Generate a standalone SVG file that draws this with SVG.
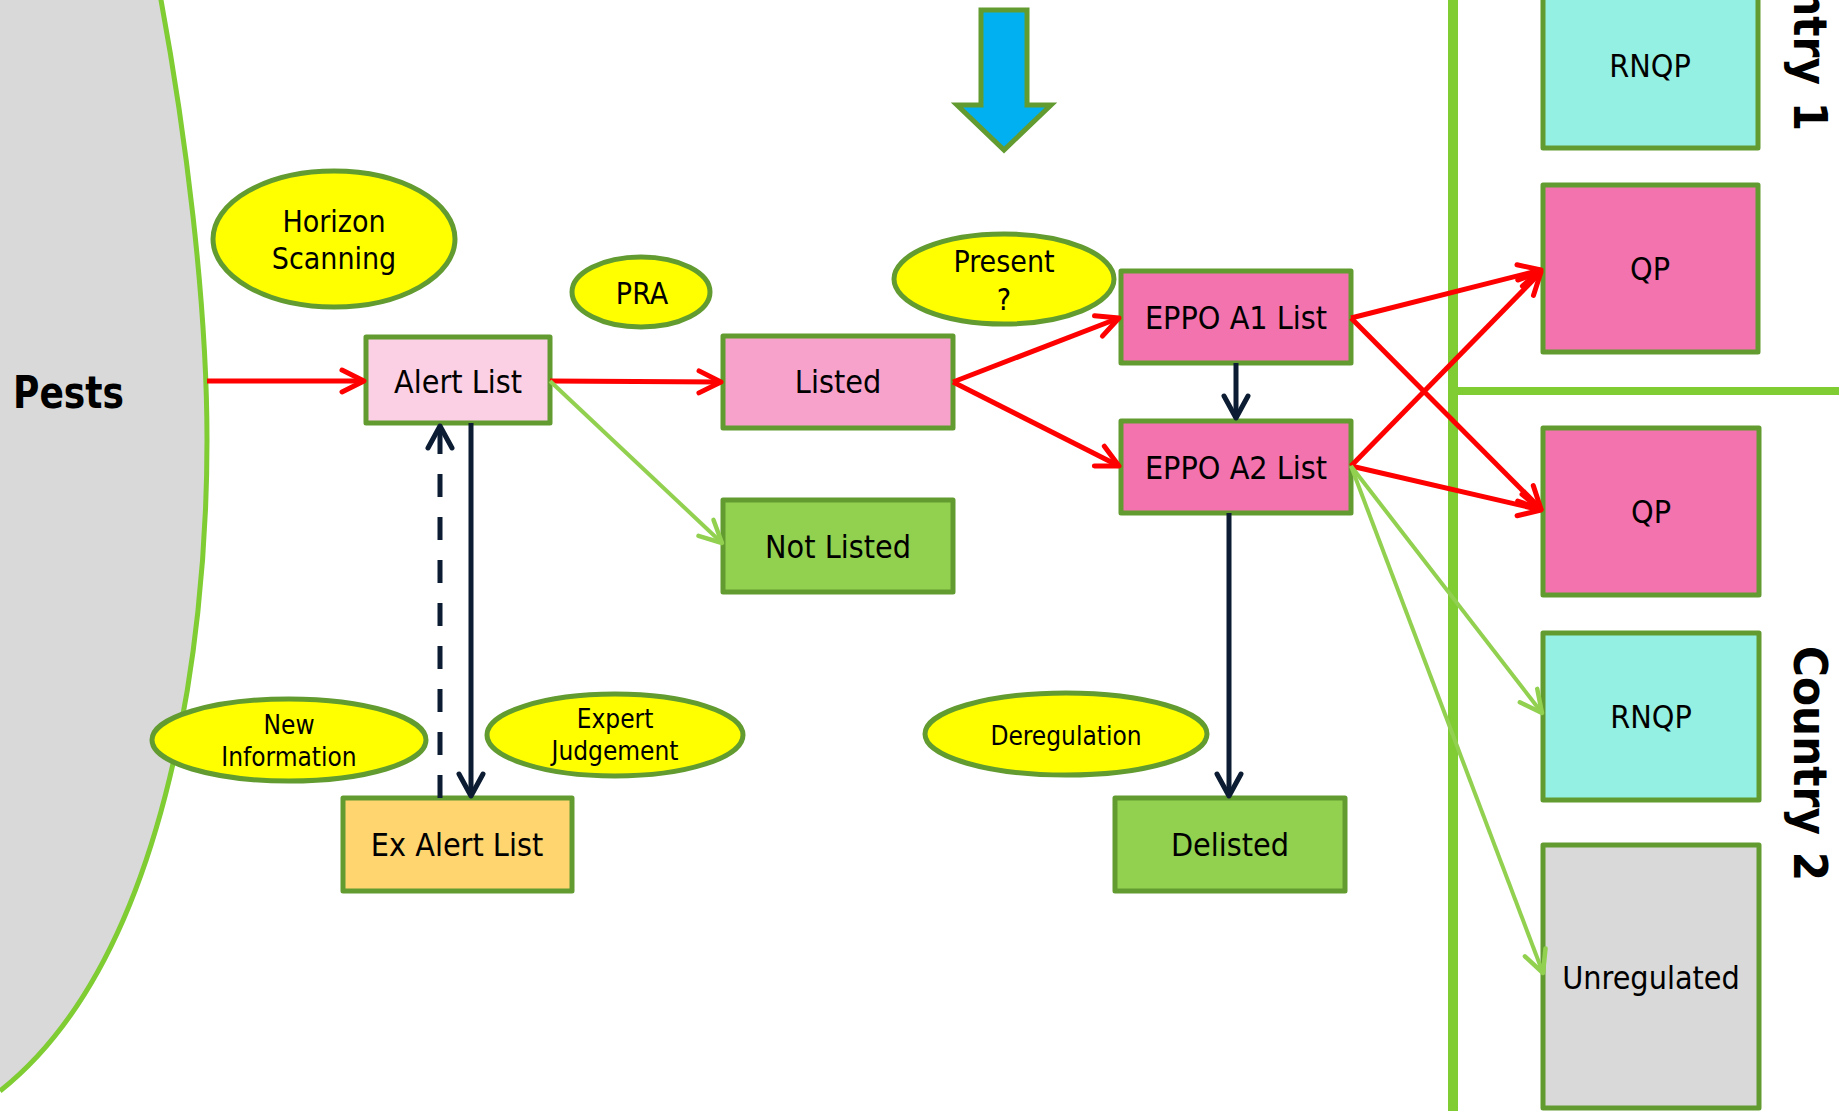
<svg xmlns="http://www.w3.org/2000/svg" width="1839" height="1111" viewBox="0 0 1839 1111">
<style>
  .t { font-family: "DejaVu Sans Condensed", "DejaVu Sans", sans-serif; font-stretch: condensed; fill: #000; text-anchor: middle; }
  .box { stroke: #629b30; stroke-width: 5; stroke-linejoin: round; }
  .ell { fill: #ffff00; stroke: #629b30; stroke-width: 5; }
  .b32 { font-size: 32px; }
  .e30 { font-size: 30px; }
  .e26 { font-size: 26px; }
  .country { font-family: "DejaVu Sans Condensed", "DejaVu Sans", sans-serif; font-stretch: condensed; font-weight: bold; font-size: 47px; fill: #000; word-spacing: 2px; }
  .red { stroke: #ff0000; stroke-width: 5; fill: none; marker-end: url(#ahRed); }
  .grn { stroke: #92d050; stroke-width: 4; fill: none; marker-end: url(#ahGrn); }
  .nav { stroke: #0c1c33; stroke-width: 5; fill: none; marker-end: url(#ahNav); }
  .divider { stroke: #7fcc33; fill: none; }
</style>
<defs>
  <marker id="ahRed" markerUnits="userSpaceOnUse" viewBox="-30 -16 36 32" markerWidth="36" markerHeight="32" refX="0" refY="0" orient="auto" overflow="visible">
    <path d="M-22,-11 L0,0 L-22,11" fill="none" stroke="#ff0000" stroke-width="5" stroke-linecap="round" stroke-linejoin="round"/>
  </marker>
  <marker id="ahGrn" markerUnits="userSpaceOnUse" viewBox="-30 -16 36 32" markerWidth="36" markerHeight="32" refX="0" refY="0" orient="auto" overflow="visible">
    <path d="M-22,-11 L0,0 L-22,11" fill="none" stroke="#92d050" stroke-width="4.5" stroke-linecap="round" stroke-linejoin="round"/>
  </marker>
  <marker id="ahNav" markerUnits="userSpaceOnUse" viewBox="-30 -16 36 32" markerWidth="36" markerHeight="32" refX="0" refY="0" orient="auto" overflow="visible">
    <path d="M-22,-12 L0,0 L-22,12" fill="none" stroke="#0c1c33" stroke-width="5" stroke-linecap="round" stroke-linejoin="round"/>
  </marker>
</defs>
<rect x="0" y="0" width="1839" height="1111" fill="#ffffff"/>

<g id="pests">
  <path d="M0,0 L161,0 C185,130 207,300 207,440 C207,650 165,960 0,1091 Z" fill="#d9d9d9"/>
  <path d="M161,-5 L161,0 C185,130 207,300 207,440 C207,650 165,960 0,1091" fill="none" stroke="#7fcc33" stroke-width="5"/>
  <text x="13" y="408" font-family="'DejaVu Sans Condensed','DejaVu Sans',sans-serif" font-stretch="condensed" font-weight="bold" font-size="44" textLength="111" lengthAdjust="spacingAndGlyphs">Pests</text>
</g>

<g id="dividers">
  <line class="divider" x1="1453" y1="0" x2="1453" y2="1111" stroke-width="10"/>
  <line class="divider" x1="1453" y1="391" x2="1839" y2="391" stroke-width="8"/>
</g>

<g id="country-labels">
  <text class="country" transform="translate(1794,-104) rotate(90)">Country 1</text>
  <text class="country" transform="translate(1794,646) rotate(90)">Country 2</text>
</g>

<g id="blue-arrow">
  <polygon points="981,10 1027,10 1027,105 1051,105 1004,150 957,105 981,105" fill="#00b0f0" stroke="#629b30" stroke-width="5" stroke-linejoin="miter"/>
</g>

<g id="horizon-scanning">
  <ellipse class="ell" cx="334" cy="239" rx="121" ry="68"/>
  <text class="t e30" x="334" y="232">Horizon</text>
  <text class="t e30" x="334" y="269">Scanning</text>
</g>
<g id="pra">
  <ellipse class="ell" cx="641" cy="292" rx="69" ry="35"/>
  <text class="t e30" x="642" y="304">PRA</text>
</g>
<g id="present">
  <ellipse class="ell" cx="1004" cy="279" rx="110" ry="45"/>
  <text class="t e30" x="1004" y="272">Present</text>
  <text class="t e30" x="1004" y="310">?</text>
</g>
<g id="new-information">
  <ellipse class="ell" cx="289" cy="740" rx="137" ry="41"/>
  <text class="t e26" x="289" y="734">New</text>
  <text class="t e26" x="289" y="766">Information</text>
</g>
<g id="expert-judgement">
  <ellipse class="ell" cx="615" cy="735" rx="128" ry="41"/>
  <text class="t e26" x="615" y="728">Expert</text>
  <text class="t e26" x="615" y="760">Judgement</text>
</g>
<g id="deregulation">
  <ellipse class="ell" cx="1066" cy="734" rx="141" ry="41"/>
  <text class="t e26" x="1066" y="745">Deregulation</text>
</g>

<g id="alert-list">
  <rect class="box" x="366" y="337" width="184" height="86" fill="#fbcfe4"/>
  <text class="t b32" x="458" y="393">Alert List</text>
</g>
<g id="listed">
  <rect class="box" x="723" y="336" width="230" height="92" fill="#f7a2cb"/>
  <text class="t b32" x="838" y="393">Listed</text>
</g>
<g id="not-listed">
  <rect class="box" x="723" y="500" width="230" height="92" fill="#92d050"/>
  <text class="t b32" x="838" y="558">Not Listed</text>
</g>
<g id="eppo-a1">
  <rect class="box" x="1121" y="271" width="230" height="92" fill="#f373ae"/>
  <text class="t b32" x="1236" y="329">EPPO A1 List</text>
</g>
<g id="eppo-a2">
  <rect class="box" x="1121" y="421" width="230" height="92" fill="#f373ae"/>
  <text class="t b32" x="1236" y="479">EPPO A2 List</text>
</g>
<g id="ex-alert-list">
  <rect class="box" x="343" y="798" width="229" height="93" fill="#fed56f"/>
  <text class="t b32" x="457" y="856">Ex Alert List</text>
</g>
<g id="delisted">
  <rect class="box" x="1115" y="798" width="230" height="93" fill="#92d050"/>
  <text class="t b32" x="1230" y="856">Delisted</text>
</g>
<g id="rnqp-1">
  <rect class="box" x="1543" y="-18" width="215" height="166" fill="#94f0e2"/>
  <text class="t b32" x="1650" y="77">RNQP</text>
</g>
<g id="qp-1">
  <rect class="box" x="1543" y="185" width="215" height="167" fill="#f373ae"/>
  <text class="t b32" x="1650" y="280">QP</text>
</g>
<g id="qp-2">
  <rect class="box" x="1543" y="428" width="216" height="167" fill="#f373ae"/>
  <text class="t b32" x="1651" y="523">QP</text>
</g>
<g id="rnqp-2">
  <rect class="box" x="1543" y="633" width="216" height="167" fill="#94f0e2"/>
  <text class="t b32" x="1651" y="728">RNQP</text>
</g>
<g id="unregulated">
  <rect class="box" x="1543" y="845" width="216" height="263" fill="#d9d9d9"/>
  <text class="t b32" x="1651" y="989">Unregulated</text>
</g>

<g id="connectors">
  <line class="red" x1="207" y1="381" x2="364" y2="381"/>
  <line class="red" x1="550" y1="381" x2="721" y2="382"/>
  <line class="red" x1="953" y1="382" x2="1119" y2="318"/>
  <line class="red" x1="953" y1="382" x2="1119" y2="466"/>
  <line class="red" x1="1351" y1="318" x2="1541" y2="270"/>
  <line class="red" x1="1351" y1="318" x2="1541" y2="509"/>
  <line class="red" x1="1351" y1="466" x2="1541" y2="272"/>
  <line class="red" x1="1351" y1="466" x2="1541" y2="510"/>
  <line class="grn" x1="550" y1="381" x2="722" y2="543"/>
  <line class="grn" x1="1351" y1="466" x2="1542" y2="713"/>
  <line class="grn" x1="1351" y1="466" x2="1543" y2="973"/>
  <line class="nav" x1="1236" y1="363" x2="1236" y2="418"/>
  <line class="nav" x1="1229" y1="513" x2="1229" y2="796"/>
  <line class="nav" x1="471" y1="423" x2="471" y2="796"/>
  <line class="nav" x1="440" y1="798" x2="440" y2="426" stroke-dasharray="23 20"/>
</g>
</svg>
